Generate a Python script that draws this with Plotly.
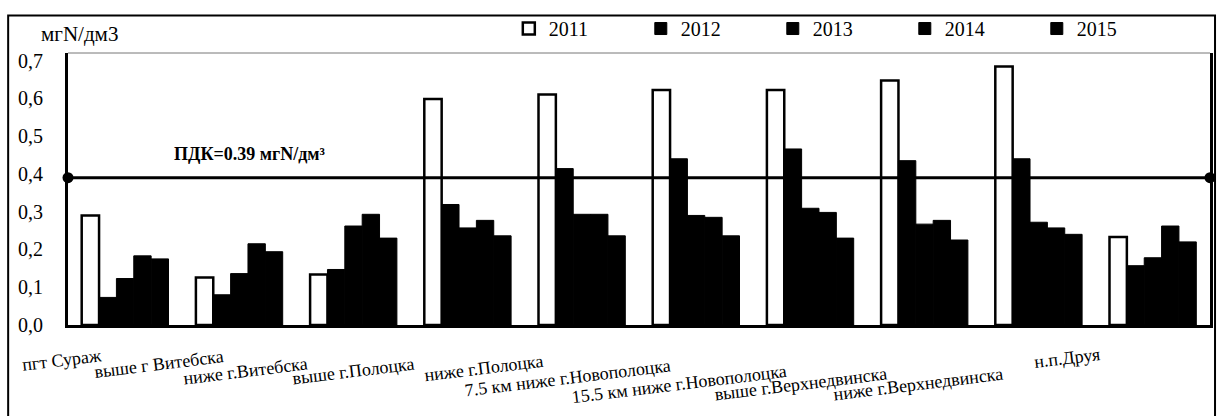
import plotly.graph_objects as go

categories = [
    "пгт Сураж",
    "выше г Витебска",
    "ниже г.Витебска",
    "выше г.Полоцка",
    "ниже г.Полоцка",
    "7.5 км ниже г.Новополоцка",
    "15.5 км ниже г.Новополоцка",
    "выше г.Верхнедвинска",
    "ниже г.Верхнедвинска",
    "н.п.Друя",
]
years = ["2011", "2012", "2013", "2014", "2015"]
v2011 = [0.29, 0.126, 0.134, 0.598, 0.61, 0.622, 0.622, 0.647, 0.684, 0.233]
v2012 = [0.073, 0.080, 0.147, 0.319, 0.414, 0.440, 0.466, 0.435, 0.440, 0.157]
v2013 = [0.123, 0.136, 0.262, 0.257, 0.293, 0.290, 0.309, 0.267, 0.272, 0.178]
v2014 = [0.183, 0.215, 0.293, 0.277, 0.293, 0.285, 0.298, 0.277, 0.257, 0.262]
v2015 = [0.175, 0.194, 0.230, 0.236, 0.236, 0.236, 0.230, 0.225, 0.240, 0.220]
series = [v2011, v2012, v2013, v2014, v2015]
pdk = 0.39
pdk_text = "ПДК=0.39 мгN/дм³"
ytick_vals = [0.0, 0.1, 0.2, 0.3, 0.4, 0.5, 0.6, 0.7]
ytick_text = ["0,0", "0,1", "0,2", "0,3", "0,4", "0,5", "0,6", "0,7"]
y_title = "мгN/дм3"

# label offsets (styling, px)
label_dx = [-63, -80, -108, -114, -98, -129, -131, -124, -120, -86]
label_dy = [-35, -39, -46, -46, -43, -53, -59, -59, -59, -33]

SERIF = "Liberation Serif"
fig = go.Figure()
fills = ["white", "black", "black", "black", "black"]
for name, vals, fc in zip(years, series, fills):
    fig.add_trace(go.Bar(
        x=categories, y=vals, name=name,
        marker=dict(color=fc, line=dict(color="black", width=2.5 if fc == "white" else 1)),
    ))

fig.add_trace(go.Scatter(
    x=[0, 1], y=[pdk, pdk], xaxis="x2", mode="lines+markers",
    line=dict(color="black", width=3), marker=dict(color="black", size=11),
    showlegend=False, cliponaxis=False, hoverinfo="skip",
))

annotations = [
    dict(x=0.159, y=pdk, xref="paper", yref="y", text="<b>" + pdk_text + "</b>",
         showarrow=False, xanchor="center", yanchor="bottom", yshift=12,
         font=dict(family=SERIF, size=18, color="black")),
    dict(x=-0.025, y=1.07, xref="paper", yref="paper", text=y_title, showarrow=False,
         xanchor="left", yanchor="middle", font=dict(family=SERIF, size=21, color="black")),
]
for c, dx, dy in zip(categories, label_dx, label_dy):
    annotations.append(dict(
        x=c, y=0, xref="x", yref="paper", text=c, showarrow=False,
        xshift=dx, yshift=dy, textangle=-7, xanchor="center", yanchor="middle",
        font=dict(family=SERIF, size=18, color="black"),
    ))

shapes = [
    dict(type="rect", xref="paper", yref="paper", x0=-0.0524, x1=1.0044, y0=-0.5, y1=1.138,
         line=dict(color="black", width=2), fillcolor="rgba(0,0,0,0)", layer="below"),
    dict(type="line", xref="paper", yref="paper", x0=0, x1=1, y0=1, y1=1,
         line=dict(color="#777", width=1)),
]

fig.update_layout(
    width=1222, height=416,
    margin=dict(l=68, r=9, t=50, b=91),
    paper_bgcolor="white", plot_bgcolor="white",
    barmode="group", bargap=0.24, bargroupgap=0,
    font=dict(family=SERIF, size=16, color="black"),
    xaxis=dict(range=[-0.5, 9.5], showticklabels=False, ticks="", showgrid=False,
               showline=True, linecolor="black", linewidth=3),
    xaxis2=dict(overlaying="x", range=[0, 1], visible=False),
    yaxis=dict(range=[0, 0.72], tickvals=ytick_vals, ticktext=ytick_text, showgrid=False,
               showline=True, linecolor="black", linewidth=3, mirror=True, ticks="",
               ticklabelstandoff=18, tickfont=dict(family=SERIF, size=20), zeroline=False),
    legend=dict(orientation="h", x=0.386, y=1.09, xanchor="left", yanchor="middle",
                entrywidth=87, entrywidthmode="pixels", itemwidth=30,
                font=dict(family=SERIF, size=20), bgcolor="rgba(0,0,0,0)"),
    annotations=annotations, shapes=shapes, showlegend=True,
)

fig.write_html("out.html", config={"displayModeBar": False},
               post_script="document.body.style.margin='0';")
